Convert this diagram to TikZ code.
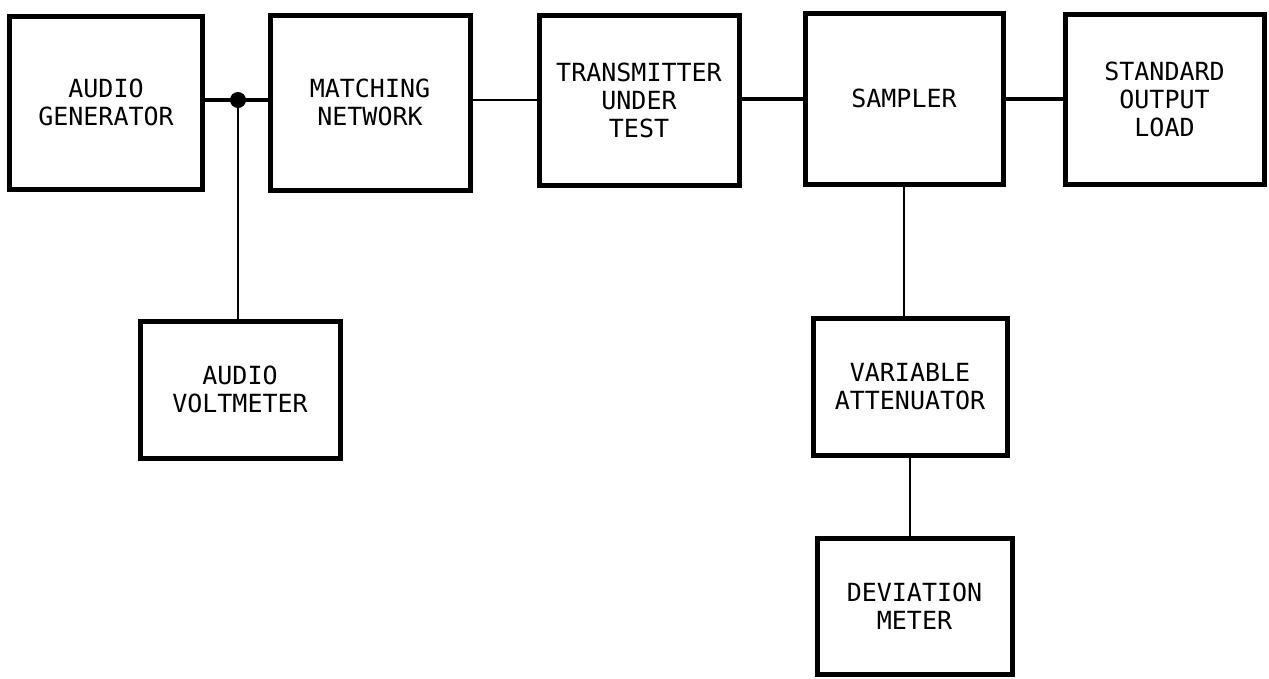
\documentclass[tikz,border=0pt]{standalone}
\usepackage{fontspec}
\newfontfamily\blockfont{DejaVu Sans Mono}
\begin{document}
\begin{tikzpicture}[x=1pt,y=-1pt,
  blk/.style={draw, line width=5pt, inner sep=0pt, align=center,
    font=\blockfont\fontsize{25}{28}\selectfont},
  thickwire/.style={line width=4pt},
  thinwire/.style={line width=2.2pt}]
\useasboundingbox (0,0) rectangle (1269,678);
\node[blk, minimum width=193pt, minimum height=173pt] (ag) at (106,102.5) {AUDIO\\GENERATOR};
\node[blk, minimum width=200pt, minimum height=175pt] (mn) at (370,102.5) {MATCHING\\NETWORK};
\node[blk, minimum width=200pt, minimum height=170pt] (tut) at (639,100) {TRANSMITTER\\UNDER\\TEST};
\node[blk, minimum width=198pt, minimum height=171pt] (smp) at (904,98.5) {SAMPLER};
\node[blk, minimum width=199pt, minimum height=170pt] (sol) at (1164.5,99) {STANDARD\\OUTPUT\\LOAD};
\node[blk, minimum width=200pt, minimum height=137pt] (av) at (240,389.5) {AUDIO\\VOLTMETER};
\node[blk, minimum width=194pt, minimum height=137pt] (va) at (910,386.5) {VARIABLE\\ATTENUATOR};
\node[blk, minimum width=195pt, minimum height=136pt] (dm) at (914.5,606) {DEVIATION\\METER};
\coordinate (j) at (238,100);
\draw[thickwire] (ag.east |- j) -- (mn.west |- j);
\fill (j) circle (8pt);
\draw[thinwire] (j) -- (j |- av.north);
\draw[thinwire] (mn.east |- j) -- (tut.west |- j);
\draw[thickwire] (tut.east |- smp.west) -- (smp.west);
\draw[thickwire] (smp.east) -- (sol.west |- smp.east);
\draw[thinwire] (smp.south) -- (smp.south |- va.north);
\draw[thinwire] (va.south) -- (va.south |- dm.north);
\end{tikzpicture}
\end{document}
